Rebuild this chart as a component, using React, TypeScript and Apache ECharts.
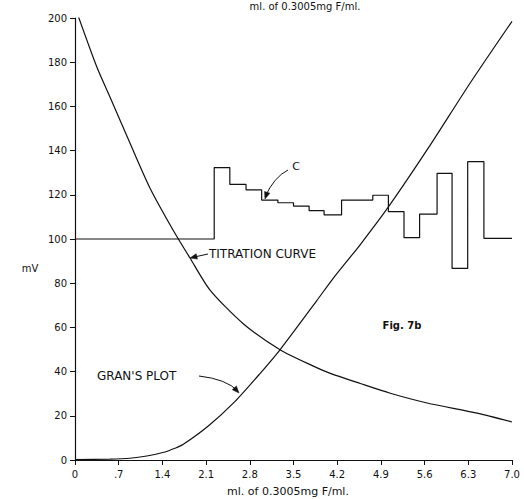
import React, { useEffect, useRef } from "react";
import * as echarts from "echarts";

const xTickLabels = ["0", ".7", "1.4", "2.1", "2.8", "3.5", "4.2", "4.9", "5.6", "6.3", "7.0"];
const yTickLabels = ["0", "20", "40", "60", "80", "100", "120", "140", "160", "180", "200"];

const titrationX = [0.05, 0.35, 0.56, 0.88, 1.2, 1.57, 1.84, 2.16, 2.69, 3.29, 3.81, 4.09, 4.57, 5.05, 5.64, 6.44, 7.0];
const titrationY = [201, 177.8, 164.3, 143.4, 123.1, 104.1, 91.5, 77, 61.8, 49.8, 42.6, 39.2, 34.6, 30.2, 25.8, 21.2, 17.2];

const granX = [0, 0.56, 0.88, 1.15, 1.44, 1.6, 1.73, 2.14, 2.56, 2.96, 3.29, 3.87, 4.13, 4.57, 5.02, 5.66, 6.33, 7.0];
const granY = [0.2, 0.4, 0.8, 1.8, 3.6, 5.3, 7.0, 15.5, 26.4, 39.0, 50.1, 72.0, 82.0, 97.5, 114.5, 141.2, 170.6, 198.5];

const stepX = [0, 2.23, 2.48, 2.74, 2.99, 3.25, 3.5, 3.75, 3.99, 4.27, 4.77, 5.02, 5.27, 5.52, 5.8, 6.04, 6.29, 6.55, 7.0];
const stepY = [100, 132.3, 124.7, 122.2, 117.6, 116.4, 114.9, 112.8, 110.9, 117.6, 119.8, 112.4, 100.6, 111.3, 129.7, 86.7, 135, 100.3, 100.3];

const INK = "#111";
const FONT = "DejaVu Sans";

function arrowHead(tip: [number, number], from: [number, number], len = 7, half = 2.8) {
  const dx = tip[0] - from[0];
  const dy = tip[1] - from[1];
  const d = Math.sqrt(dx * dx + dy * dy) || 1;
  const ux = dx / d, uy = dy / d;
  const bx = tip[0] - ux * len, by = tip[1] - uy * len;
  const px = -uy * half, py = ux * half;
  return {
    type: "polygon",
    shape: { points: [tip, [bx + px, by + py], [bx - px, by - py]] },
    style: { fill: INK, stroke: INK, lineWidth: 0.5 },
    silent: true,
  };
}

export default function App() {
  const ref = useRef<HTMLDivElement>(null);
  useEffect(() => {
    if (!ref.current) return;
    const chart = echarts.init(ref.current, undefined, { renderer: "svg" });
    const pair = (xs: number[], ys: number[]) => xs.map((x, i) => [x, ys[i]]);
    const lineStyle = { color: INK, width: 1.2 };
    chart.setOption({
      animation: false,
      backgroundColor: "#fff",
      grid: { left: 75, right: 12, top: 18, bottom: 39 },
      xAxis: {
        type: "value",
        min: 0,
        max: 7,
        interval: 0.7,
        axisLine: { show: true, lineStyle: { color: INK, width: 1.2 } },
        axisTick: { show: true, length: 5, lineStyle: { color: INK } },
        splitLine: { show: false },
        axisLabel: {
          color: INK,
          fontFamily: FONT,
          fontSize: 10,
          margin: 9,
          formatter: (v: number) => xTickLabels[Math.round(v / 0.7)] ?? "",
        },
      },
      yAxis: {
        type: "value",
        min: 0,
        max: 200,
        interval: 20,
        axisLine: { show: true, lineStyle: { color: INK, width: 1.2 } },
        axisTick: { show: true, length: 5, lineStyle: { color: INK } },
        splitLine: { show: false },
        axisLabel: {
          color: INK,
          fontFamily: FONT,
          fontSize: 10,
          margin: 8,
          formatter: (v: number) => yTickLabels[Math.round(v / 20)] ?? "",
        },
      },
      series: [
        {
          name: "Titration curve",
          type: "line",
          data: pair(titrationX, titrationY),
          smooth: 0.25,
          showSymbol: false,
          lineStyle,
        },
        {
          name: "Gran's plot",
          type: "line",
          data: pair(granX, granY),
          smooth: 0.25,
          showSymbol: false,
          lineStyle,
        },
        {
          name: "C",
          type: "line",
          step: "end",
          data: pair(stepX, stepY),
          showSymbol: false,
          lineStyle,
        },
      ],
      graphic: [
        {
          type: "text",
          x: 305,
          y: 1,
          style: { text: "ml. of 0.3005mg F/ml.", fill: INK, font: `10px ${FONT}`, align: "center", verticalAlign: "top" },
        },
        {
          type: "text",
          x: 288,
          y: 491,
          style: { text: "ml. of 0.3005mg F/ml.", fill: INK, font: `11px ${FONT}`, align: "center", verticalAlign: "middle" },
        },
        {
          type: "text",
          x: 30,
          y: 268,
          style: { text: "mV", fill: INK, font: `10px ${FONT}`, align: "center", verticalAlign: "middle" },
        },
        {
          type: "text",
          x: 296,
          y: 166,
          style: { text: "C", fill: INK, font: `11px ${FONT}`, align: "center", verticalAlign: "middle" },
        },
        {
          type: "bezierCurve",
          shape: { x1: 288, y1: 170, x2: 265, y2: 197, cpx1: 274, cpy1: 177 },
          style: { stroke: INK, lineWidth: 1, fill: "none" },
        },
        arrowHead([265, 199], [268, 190]),
        {
          type: "text",
          x: 209,
          y: 254,
          style: { text: "TITRATION CURVE", fill: INK, font: `12px ${FONT}`, align: "left", verticalAlign: "middle" },
        },
        {
          type: "line",
          shape: { x1: 208, y1: 254, x2: 192, y2: 257.5 },
          style: { stroke: INK, lineWidth: 1 },
        },
        arrowHead([190, 258], [207, 254]),
        {
          type: "text",
          x: 97,
          y: 376,
          style: { text: "GRAN'S PLOT", fill: INK, font: `12px ${FONT}`, align: "left", verticalAlign: "middle" },
        },
        {
          type: "bezierCurve",
          shape: { x1: 199, y1: 376, x2: 238, y2: 391, cpx1: 226, cpy1: 379 },
          style: { stroke: INK, lineWidth: 1, fill: "none" },
        },
        arrowHead([239, 393], [230, 383]),
        {
          type: "text",
          x: 402,
          y: 325,
          style: { text: "Fig. 7b", fill: INK, font: `bold 10px ${FONT}`, align: "center", verticalAlign: "middle" },
        },
      ],
    });
    return () => chart.dispose();
  }, []);
  return <div ref={ref} style={{ width: 524, height: 499, position: "absolute", left: 0, top: 0 }} />;
}
